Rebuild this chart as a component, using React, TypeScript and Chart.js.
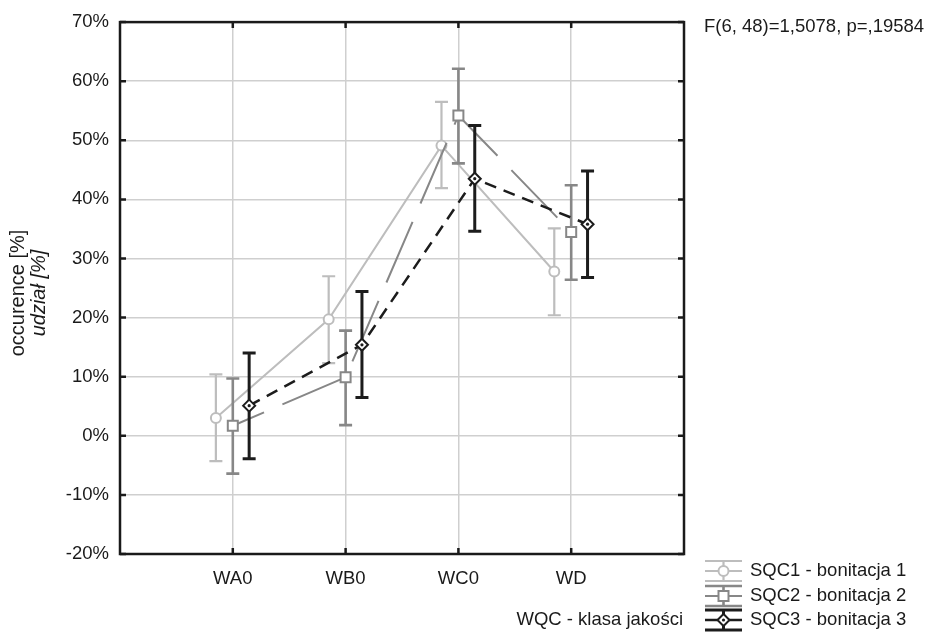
import React, { useEffect, useRef } from "react";
import { Chart, registerables } from "chart.js";

Chart.register(...registerables);

// ---- data ----
const categories = ["WA0", "WB0", "WC0", "WD"];
const seriesNames = ["SQC1 - bonitacja 1", "SQC2 - bonitacja 2", "SQC3 - bonitacja 3"];
const sqc1Mean = [3.0, 19.7, 49.1, 27.8];
const sqc1Low = [-4.3, 12.3, 41.9, 20.4];
const sqc1High = [10.4, 27.0, 56.5, 35.1];
const sqc2Mean = [1.7, 9.9, 54.2, 34.5];
const sqc2Low = [-6.4, 1.8, 46.1, 26.4];
const sqc2High = [9.7, 17.8, 62.1, 42.4];
const sqc3Mean = [5.1, 15.4, 43.5, 35.8];
const sqc3Low = [-3.9, 6.5, 34.6, 26.8];
const sqc3High = [14.0, 24.4, 52.5, 44.8];
const yTickValues = [-20, -10, 0, 10, 20, 30, 40, 50, 60, 70];
const statText = "F(6, 48)=1,5078, p=,19584";
const xTitle = "WQC - klasa jakości";
const yTitle1 = "occurence [%]";
const yTitle2 = "udział [%]";

const means = [sqc1Mean, sqc2Mean, sqc3Mean];
const lows = [sqc1Low, sqc2Low, sqc3Low];
const highs = [sqc1High, sqc2High, sqc3High];

// ---- styles ----
const FONT = "'Liberation Sans', Arial, sans-serif";
const FS = 18.5;
const TEXT = "#1a1a1a";
const offsets = [-0.15, 0, 0.145];
const styles = [
  { color: "#bdbdbd", width: 2, dash: [] as number[], dashOffset: 0, marker: "circle", bar: 2.2 },
  { color: "#878787", width: 2, dash: [66, 20], dashOffset: 32, marker: "rect", bar: 2.6 },
  { color: "#1c1c1c", width: 2.5, dash: [12, 8], dashOffset: 0, marker: "rectRot", bar: 3 },
];

function drawMarker(ctx: CanvasRenderingContext2D, kind: string, x: number, y: number, color: string) {
  ctx.save();
  ctx.setLineDash([]);
  ctx.strokeStyle = color;
  ctx.fillStyle = "#ffffff";
  ctx.lineWidth = 2;
  ctx.beginPath();
  if (kind === "circle") {
    ctx.arc(x, y, 5, 0, Math.PI * 2);
  } else if (kind === "rect") {
    ctx.rect(x - 5, y - 5, 10, 10);
  } else {
    ctx.moveTo(x, y - 6);
    ctx.lineTo(x + 6, y);
    ctx.lineTo(x, y + 6);
    ctx.lineTo(x - 6, y);
    ctx.closePath();
  }
  ctx.fill();
  ctx.stroke();
  if (kind === "rectRot") {
    ctx.fillStyle = color;
    ctx.beginPath();
    ctx.arc(x, y, 1.6, 0, Math.PI * 2);
    ctx.fill();
  }
  ctx.restore();
}

const errorBarPlugin = {
  id: "errorBars",
  beforeDatasetDraw(chart: any, args: any) {
    const i = args.index;
    const ctx = chart.ctx as CanvasRenderingContext2D;
    const xs = chart.scales.x;
    const ys = chart.scales.y;
    const st = styles[i];
    ctx.save();
    ctx.strokeStyle = st.color;
    ctx.lineWidth = st.bar;
    ctx.setLineDash([]);
    for (let j = 0; j < categories.length; j++) {
      const x = xs.getPixelForValue(j + 1 + offsets[i]);
      const yl = ys.getPixelForValue(lows[i][j]);
      const yh = ys.getPixelForValue(highs[i][j]);
      ctx.beginPath();
      ctx.moveTo(x, yl);
      ctx.lineTo(x, yh);
      ctx.moveTo(x - 6.5, yl);
      ctx.lineTo(x + 6.5, yl);
      ctx.moveTo(x - 6.5, yh);
      ctx.lineTo(x + 6.5, yh);
      ctx.stroke();
    }
    ctx.restore();
  },
  afterDatasetDraw(chart: any, args: any) {
    const i = args.index;
    const ctx = chart.ctx as CanvasRenderingContext2D;
    const meta = chart.getDatasetMeta(i);
    meta.data.forEach((pt: any) => drawMarker(ctx, styles[i].marker, pt.x, pt.y, styles[i].color));
  },
};

const framePlugin = {
  id: "frame",
  afterDraw(chart: any) {
    const ctx = chart.ctx as CanvasRenderingContext2D;
    const a = chart.chartArea;
    const xs = chart.scales.x;
    const ys = chart.scales.y;
    ctx.save();
    ctx.strokeStyle = "#1a1a1a";
    ctx.lineWidth = 2.5;
    ctx.setLineDash([]);
    ctx.strokeRect(a.left, a.top, a.right - a.left, a.bottom - a.top);
    ctx.beginPath();
    yTickValues.forEach((v) => {
      const y = ys.getPixelForValue(v);
      ctx.moveTo(a.left, y);
      ctx.lineTo(a.left + 6, y);
      ctx.moveTo(a.right, y);
      ctx.lineTo(a.right - 6, y);
    });
    categories.forEach((_, j) => {
      const x = xs.getPixelForValue(j + 1);
      ctx.moveTo(x, a.bottom);
      ctx.lineTo(x, a.bottom - 6);
      ctx.moveTo(x, a.top);
      ctx.lineTo(x, a.top + 6);
    });
    ctx.stroke();

    // texts
    ctx.fillStyle = TEXT;
    ctx.font = `${FS}px ${FONT}`;
    ctx.textBaseline = "middle";
    ctx.textAlign = "left";
    ctx.fillText(statText, 704, 27);
    ctx.textAlign = "right";
    ctx.fillText(xTitle, 683, 620);

    ctx.save();
    ctx.translate(18, 293);
    ctx.rotate(-Math.PI / 2);
    ctx.textAlign = "center";
    ctx.font = `20px ${FONT}`;
    ctx.fillText(yTitle1, 0, 0);
    ctx.font = `italic 20px ${FONT}`;
    ctx.fillText(yTitle2, 0, 21);
    ctx.restore();

    // legend
    const rows = [571, 596, 620];
    const x1 = 705;
    const x2 = 742;
    const cx = (x1 + x2) / 2;
    seriesNames.forEach((name, i) => {
      const y = rows[i];
      const st = styles[i];
      ctx.strokeStyle = st.color;
      ctx.lineWidth = st.bar;
      ctx.beginPath();
      ctx.moveTo(x1, y - 10);
      ctx.lineTo(x2, y - 10);
      ctx.moveTo(x1, y + 10);
      ctx.lineTo(x2, y + 10);
      ctx.moveTo(cx, y - 10);
      ctx.lineTo(cx, y + 10);
      ctx.stroke();
      ctx.lineWidth = st.width;
      ctx.beginPath();
      ctx.moveTo(x1, y);
      ctx.lineTo(x2, y);
      ctx.stroke();
      drawMarker(ctx, st.marker, cx, y, st.color);
      ctx.fillStyle = TEXT;
      ctx.textAlign = "left";
      ctx.font = `${FS}px ${FONT}`;
      ctx.fillText(name, 750, y);
    });
    ctx.restore();
  },
};

export default function App() {
  const ref = useRef<HTMLCanvasElement | null>(null);
  useEffect(() => {
    if (!ref.current) return;
    const chart = new Chart(ref.current, {
      type: "line",
      data: {
        datasets: means.map((m, i) => ({
          label: seriesNames[i],
          data: m.map((v, j) => ({ x: j + 1 + offsets[i], y: v })),
          borderColor: styles[i].color,
          borderWidth: styles[i].width,
          borderDash: styles[i].dash,
          borderDashOffset: styles[i].dashOffset,
          pointRadius: 0,
          pointHoverRadius: 0,
          tension: 0,
          fill: false,
          order: 3 - i,
        })),
      },
      options: {
        animation: false,
        responsive: false,
        events: [],
        layout: { padding: { left: 0, top: 20, right: 256, bottom: 0 } },
        plugins: { legend: { display: false }, tooltip: { enabled: false } },
        scales: {
          x: {
            type: "linear",
            min: 0,
            max: 5,
            afterBuildTicks: (scale: any) => {
              scale.ticks = categories.map((_, j) => ({ value: j + 1 }));
            },
            afterFit: (scale: any) => {
              scale.height = 78;
            },
            border: { display: false },
            grid: { color: "#cfcfcf", lineWidth: 1.5, drawTicks: false },
            ticks: {
              autoSkip: false,
              maxRotation: 0,
              padding: 14,
              color: TEXT,
              font: { family: FONT, size: FS },
              callback: (v: any) => categories[Number(v) - 1] ?? "",
            },
          },
          y: {
            type: "linear",
            min: -20,
            max: 70,
            afterBuildTicks: (scale: any) => {
              scale.ticks = yTickValues.map((v) => ({ value: v }));
            },
            afterFit: (scale: any) => {
              scale.width = 120;
            },
            border: { display: false },
            grid: { color: "#cfcfcf", lineWidth: 1.5, drawTicks: false },
            ticks: {
              padding: 11,
              color: TEXT,
              font: { family: FONT, size: FS },
              callback: (v: any) => `${v}%`,
            },
          },
        },
      },
      plugins: [errorBarPlugin, framePlugin],
    } as any);
    return () => chart.destroy();
  }, []);
  return (
    <div style={{ position: "absolute", left: 0, top: 0, width: 940, height: 632, background: "#fff" }}>
      <canvas ref={ref} width={940} height={632} style={{ display: "block" }} />
    </div>
  );
}
